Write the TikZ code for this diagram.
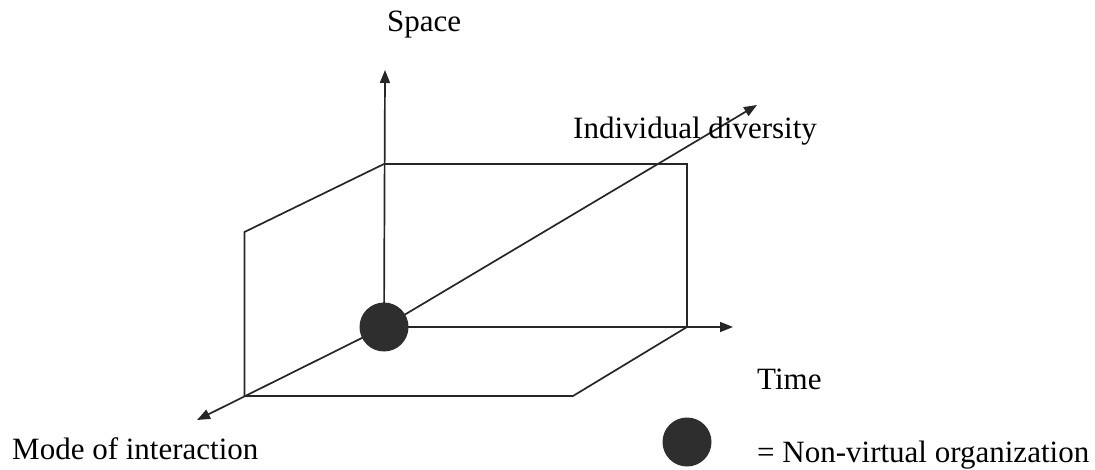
\documentclass[tikz,border=0pt]{standalone}
\usepackage{fontspec}
\setmainfont{Liberation Serif}
\usetikzlibrary{arrows.meta}
\begin{document}
\begin{tikzpicture}[x=1pt,y=-1pt,
  ln/.style={line width=1.7pt,draw=black!85},
  ax/.style={ln,-{Triangle[length=13pt,width=10pt]}},
  lbl/.style={inner sep=0pt,anchor=base west,font=\fontsize{31}{36}\selectfont},
  ball/.style={circle,fill=black!82,draw=none,inner sep=0pt,minimum size=49pt}]
\useasboundingbox (0,0) rectangle (1095,470);
% key points
\coordinate (O) at (384,327);
\coordinate (spaceTip) at (385,70);
\coordinate (timeTip) at (733,327);
\coordinate (divTip) at (757,105);
\coordinate (modeTip) at (197,420);
\coordinate (bTL) at (384,164);
\coordinate (bTR) at (687,164);
\coordinate (bBR) at (687,327);
\coordinate (lTop) at (244.5,232);
\coordinate (lBot) at (244.5,396);
\coordinate (fBR) at (573,396);
% planes
\draw[ln] (bTL) -- (bTR) -- (bBR);
\draw[ln] (bTL) -- (lTop) -- (lBot) -- (fBR) -- (bBR);
% axes
\draw[ax] (O) -- (spaceTip);
\draw[ax] (O) -- (timeTip);
\draw[ax] (O) -- (divTip);
\draw[ax] (O) -- (modeTip);
% origin ball
\node[ball] (org) at (O) {};
% labels
\node[lbl] (space) at (387,32) {Space};
\node[lbl] (div) at (573,139) {Individual diversity};
\node[lbl] (time) at (757,389) {Time};
\node[lbl] (mode) at (12,459) {Mode of interaction};
\node[ball] (legball) at (687,442) {};
\node[lbl] (legtxt) at (757,462) {= Non-virtual organization};
\end{tikzpicture}
\end{document}
